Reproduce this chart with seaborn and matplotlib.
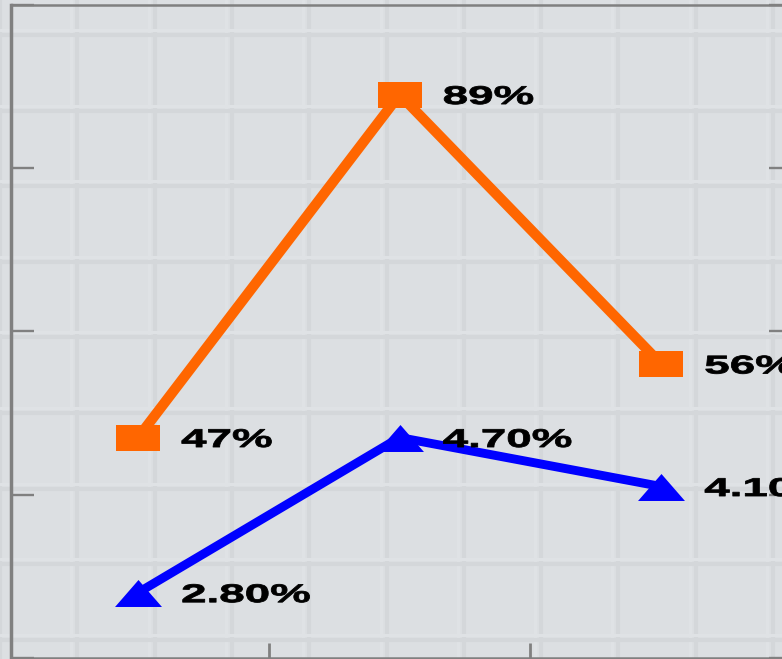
import numpy as np
import pandas as pd
import matplotlib
matplotlib.use("Agg")
import matplotlib.pyplot as plt
import seaborn as sns
from matplotlib.path import Path
from matplotlib.transforms import Affine2D
from matplotlib.patheffects import AbstractPathEffect

# ---------------- data ----------------
categories = ["Cat 1", "Cat 2", "Cat 3"]
orange_values = [47, 89, 56]          # left axis, %
blue_values = [2.8, 4.7, 4.1]         # right axis, %
orange_labels = ["47%", "89%", "56%"]
blue_labels = ["2.80%", "4.70%", "4.10%"]
left_ticks = [20, 40, 60, 80, 100]
right_ticks = [2, 4, 6, 8, 10]

# ---------------- style ----------------
DPI = 100
W, H = 782, 659
BG = "#dcdfe2"
GRID_DARK = "#d4d7da"
GRID_LIGHT = "#dfe2e5"
SPINE = "#808080"
ORANGE = "#ff6600"
BLUE = "#0000ff"
SX = 1.78  # horizontal stretch of the reference rendering

sns.set_style("white")
plt.rcParams["font.family"] = ["Liberation Sans", "DejaVu Sans"]


class HStretch(AbstractPathEffect):
    """Draw text glyphs stretched horizontally (text stays a Text artist)."""
    def __init__(self, sx, lw=0.0):
        super().__init__()
        self._sx = sx
        self._lw = lw

    def draw_path(self, renderer, gc, tpath, affine, rgbFace=None):
        gc0 = renderer.new_gc()
        gc0.copy_properties(gc)
        if self._lw > 0 and rgbFace is not None:
            gc0.set_linewidth(self._lw)
            gc0.set_foreground(rgbFace)
            gc0.set_joinstyle("round")
        renderer.draw_path(gc0, tpath, Affine2D().scale(self._sx, 1.0) + affine, rgbFace)
        gc0.restore()


rect_h = 25 / 44
rect_marker = Path([(-1, -rect_h), (1, -rect_h), (1, rect_h), (-1, rect_h), (-1, -rect_h)], closed=True)
tri_h = 27 / 47
tri_marker = Path([(0, tri_h), (-1, -tri_h), (1, -tri_h), (0, tri_h)], closed=True)

fig = plt.figure(figsize=(W / DPI, H / DPI), dpi=DPI, facecolor=BG)

# background graph-paper texture (soft lines)
bg = fig.add_axes([0, 0, 1, 1], zorder=0)
bg.set_xlim(0, W)
bg.set_ylim(H, 0)
bg.axis("off")
for xv in np.arange(0.0, W + 1, 77.3):
    bg.axvline(xv - 6, color=GRID_LIGHT, lw=2.2, zorder=0)
    bg.axvline(xv, color=GRID_DARK, lw=3.0, zorder=0)
for yv in np.arange(35.0 - 75.6, H + 1, 75.6):
    bg.axhline(yv - 5, color=GRID_LIGHT, lw=2.2, zorder=0)
    bg.axhline(yv, color=GRID_DARK, lw=3.0, zorder=0)

# main axes placement (pixels)
left_px, right_px = 10.5, 792.0
top_px, bottom_px = 4.7, 658.0
ax = fig.add_axes([left_px / W, (H - bottom_px) / H,
                   (right_px - left_px) / W, (bottom_px - top_px) / H], zorder=1)
ax.patch.set_visible(False)
ax2 = ax.twinx()
ax2.patch.set_visible(False)

pos = np.arange(len(categories))
df = pd.DataFrame({"pos": pos, "orange": orange_values, "blue": blue_values})

sns.lineplot(data=df, x="pos", y="orange", ax=ax, color=ORANGE, lw=7.4,
             marker=rect_marker, markersize=31.7, markeredgewidth=0,
             markerfacecolor=ORANGE)
sns.lineplot(data=df, x="pos", y="blue", ax=ax2, color=BLUE, lw=6.4,
             marker=tri_marker, markersize=33.8, markeredgewidth=0,
             markerfacecolor=BLUE)

for a in (ax, ax2):
    a.set_xlabel("")
    a.set_ylabel("")

ax.set_xlim(-0.4876, 2.5)
ax.set_ylim(left_ticks[0], left_ticks[-1])
ax2.set_ylim(right_ticks[0], right_ticks[-1])
ax.set_yticks(left_ticks)
ax2.set_yticks(right_ticks)
ax.set_xticks([0.5, 1.5])

ax.tick_params(axis="y", direction="in", length=16.5, width=1.7, color=SPINE,
               left=True, labelleft=False, right=False)
ax.tick_params(axis="x", direction="in", length=11, width=2.0, color=SPINE,
               bottom=True, labelbottom=False, top=False)
ax2.tick_params(axis="y", direction="in", length=16.5, width=1.7, color=SPINE,
                right=True, labelright=False, left=False)

for name, sp in ax.spines.items():
    sp.set_visible(True)
    sp.set_color(SPINE)
    sp.set_linewidth(2.5 if name == "left" else 1.8)
for name, sp in ax2.spines.items():
    sp.set_visible(name == "right")
    sp.set_color(SPINE)
    sp.set_linewidth(1.8)

text_kw = dict(textcoords="offset points", xytext=(31, 0), ha="left",
               va="center_baseline", fontsize=18.5, fontweight="bold",
               color="black", zorder=6, annotation_clip=False,
               path_effects=[HStretch(SX, lw=0.6)])
for xp, v, lbl in zip(pos, orange_values, orange_labels):
    ax.annotate(lbl, xy=(xp, v), **text_kw)
for xp, v, lbl in zip(pos, blue_values, blue_labels):
    ax2.annotate(lbl, xy=(xp, v), **text_kw)

fig.savefig("out.png", dpi=DPI, facecolor=BG)
